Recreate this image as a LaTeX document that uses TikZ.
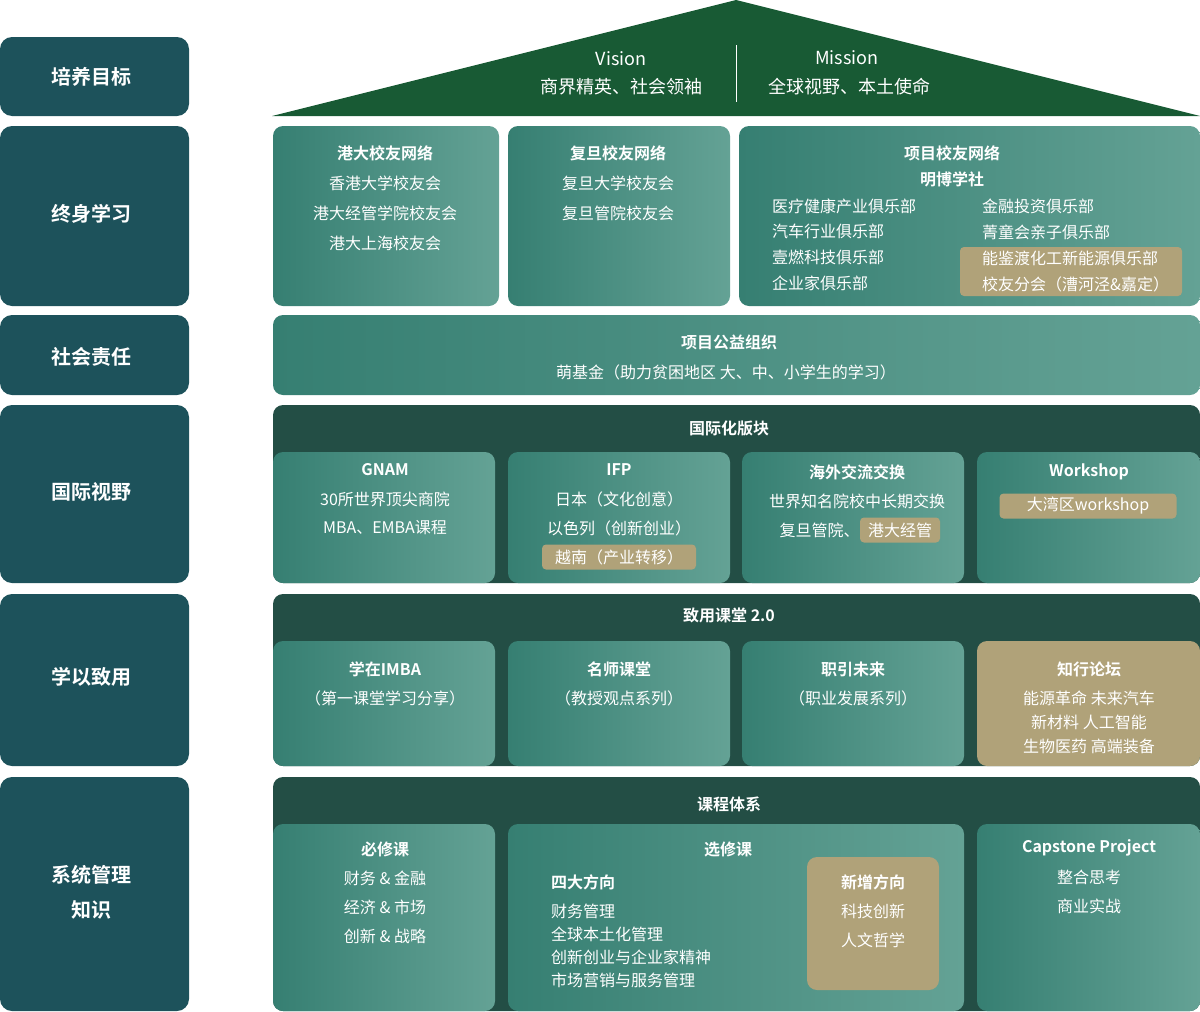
\documentclass[tikz,border=0pt]{standalone}
\usepackage{fontspec}
\setmainfont{Noto Sans CJK SC}[BoldFont={Noto Sans CJK SC Bold}]
\usetikzlibrary{fit}

\definecolor{sidecol}{HTML}{1D525B}
\definecolor{roofcol}{HTML}{185A34}
\definecolor{framecol}{HTML}{234E45}
\definecolor{tealL}{HTML}{367F72}
\definecolor{tealR}{HTML}{64A295}
\definecolor{tancol}{HTML}{B0A279}

\tikzset{
  side/.style={fill=sidecol, rounded corners=12pt, inner sep=0pt},
  sidetext/.style={text=white, inner sep=0pt, font=\bfseries\fontsize{20}{24}\selectfont},
  panel/.style={left color=tealL, right color=tealR, rounded corners=10pt, inner sep=0pt},
  frame/.style={fill=framecol, rounded corners=10pt, inner sep=0pt},
  tanbox/.style={fill=tancol, rounded corners=10pt, inner sep=0pt},
  hl/.style={fill=tancol, rounded corners=4pt, inner sep=0pt, text=white},
  body/.style={text=white, inner sep=0pt, font=\fontsize{16}{19}\selectfont},
  head/.style={text=white, inner sep=0pt, font=\bfseries\fontsize{16}{19}\selectfont}
}

\begin{document}
\begin{tikzpicture}[x=1pt,y=-1pt]

      \useasboundingbox (0,0) rectangle (1200,1012);

      \begin{scope}[every node/.style={side}]
        \node[fit={(0,37) (189,116)}]   (goal)    {};
        \node[fit={(0,126) (189,306)}]  (life)    {};
        \node[fit={(0,315) (189,395)}]  (social)  {};
        \node[fit={(0,405) (189,583)}]  (global)  {};
        \node[fit={(0,594) (189,766)}]  (apply)   {};
        \node[fit={(0,777) (189,1011)}] (know)    {};
      \end{scope}
      \begin{scope}[every node/.style={sidetext}]
        \node (s1) at (91,77)  {培养目标};
        \node (s2) at (91,214) {终身学习};
        \node (s3) at (91,357) {社会责任};
        \node (s4) at (91,492) {国际视野};
        \node (s5) at (91,677) {学以致用};
        \node (s6) at (91,875) {系统管理};
        \node (s7) at (91,910) {知识};
      \end{scope}

      \fill[roofcol] (272,116) -- (736,0) -- (1200,116) -- cycle;
      \draw[white, line width=1pt] (736,45) -- (736,102);
      \begin{scope}[every node/.style={text=white, inner sep=0pt, font=\fontsize{18}{21}\selectfont}]
        \node (vis)  at (621,59) {Vision};
        \node (visl) at (621,87) {商界精英、社会领袖};
        \node (mis)  at (847,58) {Mission};
        \node (misl) at (849,87) {全球视野、本土使命};
      \end{scope}

      \begin{scope}[every node/.style={panel}]
        \node[fit={(273,126) (499,306)}]  (hku)    {};
        \node[fit={(508,126) (730,306)}]  (fdu)    {};
        \node[fit={(739,126) (1200,306)}] (alumni) {};
        \node[fit={(273,315) (1200,395)}] (charity) {};
      \end{scope}
      \node[hl, fit={(960,247) (1182,296)}] (newclub) {};

      \begin{scope}[every node/.style={frame}]
        \node[fit={(273,405) (1200,583)}]  (intl)   {};
        \node[fit={(273,594) (1200,766)}]  (class)  {};
        \node[fit={(273,777) (1200,1011)}] (course) {};
      \end{scope}

      \begin{scope}[every node/.style={panel}]
        \node[fit={(273,452) (495,583)}]  (gnam)  {};
        \node[fit={(508,452) (730,583)}]  (ifp)   {};
        \node[fit={(742,452) (964,583)}]  (exch)  {};
        \node[fit={(977,452) (1200,583)}] (work)  {};
        \node[fit={(273,641) (495,766)}]  (imba)  {};
        \node[fit={(508,641) (730,766)}]  (prof)  {};
        \node[fit={(742,641) (964,766)}]  (career) {};
        \node[fit={(273,824) (495,1011)}] (req)   {};
        \node[fit={(508,824) (964,1011)}] (elec)  {};
        \node[fit={(977,824) (1200,1011)}] (cap)  {};
      \end{scope}

      \begin{scope}[every node/.style={tanbox}]
        \node[fit={(977,641) (1200,766)}] (forum) {};
        \node[fit={(807,857) (939,990)}]  (newdir) {};
      \end{scope}

      \begin{scope}[every node/.style={hl, font=\fontsize{16}{19}\selectfont, minimum height=25pt}]
        \node[minimum width=154pt] (vn)  at (619,557)  {越南（产业转移）};
        \node[minimum width=80pt]  (hke) at (900,530)  {港大经管};
        \node[minimum width=177pt] (gba) at (1088,506) {大湾区workshop};
      \end{scope}

      \begin{scope}[every node/.style={head}]
        \node (t1)  at (385,153) {港大校友网络};
        \node (t2)  at (618,153) {复旦校友网络};
        \node (t3)  at (952,153) {项目校友网络};
        \node (t4)  at (952,179) {明博学社};
        \node (t5)  at (729,342) {项目公益组织};
        \node (t6)  at (729,428) {国际化版块};
        \node (t7)  at (385,470) {GNAM};
        \node (t8)  at (619,470) {IFP};
        \node (t9)  at (857,472) {海外交流交换};
        \node (t10) at (1089,472) {Workshop};
        \node (t11) at (729,615) {致用课堂 2.0};
        \node (t12) at (385,669) {学在IMBA};
        \node (t13) at (619,669) {名师课堂};
        \node (t14) at (853,669) {职引未来};
        \node (t15) at (1089,669) {知行论坛};
        \node (t16) at (729,804) {课程体系};
        \node (t17) at (385,849) {必修课};
        \node (t18) at (728,849) {选修课};
        \node[anchor=west] (t19) at (551,882) {四大方向};
        \node (t20) at (873,882) {新增方向};
        \node (t21) at (1089,848) {Capstone Project};
      \end{scope}

      \begin{scope}[every node/.style={body}]
        \node (a1) at (385,183) {香港大学校友会};
        \node (a2) at (385,213) {港大经管学院校友会};
        \node (a3) at (385,243) {港大上海校友会};
        \node (b1) at (618,183) {复旦大学校友会};
        \node (b2) at (618,213) {复旦管院校友会};
        \node[anchor=west] (c1) at (772,206) {医疗健康产业俱乐部};
        \node[anchor=west] (c2) at (772,231) {汽车行业俱乐部};
        \node[anchor=west] (c3) at (772,257) {壹燃科技俱乐部};
        \node[anchor=west] (c4) at (772,283) {企业家俱乐部};
        \node[anchor=west] (c5) at (982,206) {金融投资俱乐部};
        \node[anchor=west] (c6) at (982,232) {菁童会亲子俱乐部};
        \node[anchor=west] (c7) at (982,258) {能鉴渡化工新能源俱乐部};
        \node[anchor=west] (c8) at (982,284) {校友分会（漕河泾\&嘉定）};
        \node (d1) at (726,372) {萌基金（助力贫困地区 大、中、小学生的学习）};
        \node (e1) at (385,499) {30所世界顶尖商院};
        \node (e2) at (385,528) {MBA、EMBA课程};
        \node (e3) at (619,499) {日本（文化创意）};
        \node (e4) at (619,528) {以色列（创新创业）};
        \node (e5) at (857,501) {世界知名院校中长期交换};
        \node[anchor=east] (e6) at (hke.west) {复旦管院、};
        \node (f1) at (385,698) {（第一课堂学习分享）};
        \node (f2) at (619,698) {（教授观点系列）};
        \node (f3) at (853,698) {（职业发展系列）};
        \node (f4) at (1089,698) {能源革命 未来汽车};
        \node (f5) at (1089,722) {新材料 人工智能};
        \node (f6) at (1089,746) {生物医药 高端装备};
        \node (g1) at (385,878) {财务 \& 金融};
        \node (g2) at (385,907) {经济 \& 市场};
        \node (g3) at (385,936) {创新 \& 战略};
        \node[anchor=west] (g4) at (551,911) {财务管理};
        \node[anchor=west] (g5) at (551,934) {全球本土化管理};
        \node[anchor=west] (g6) at (551,957) {创新创业与企业家精神};
        \node[anchor=west] (g7) at (551,980) {市场营销与服务管理};
        \node (g8) at (873,911) {科技创新};
        \node (g9) at (873,940) {人文哲学};
        \node (g10) at (1089,877) {整合思考};
        \node (g11) at (1089,906) {商业实战};
      \end{scope}

    \end{tikzpicture}
\end{document}
